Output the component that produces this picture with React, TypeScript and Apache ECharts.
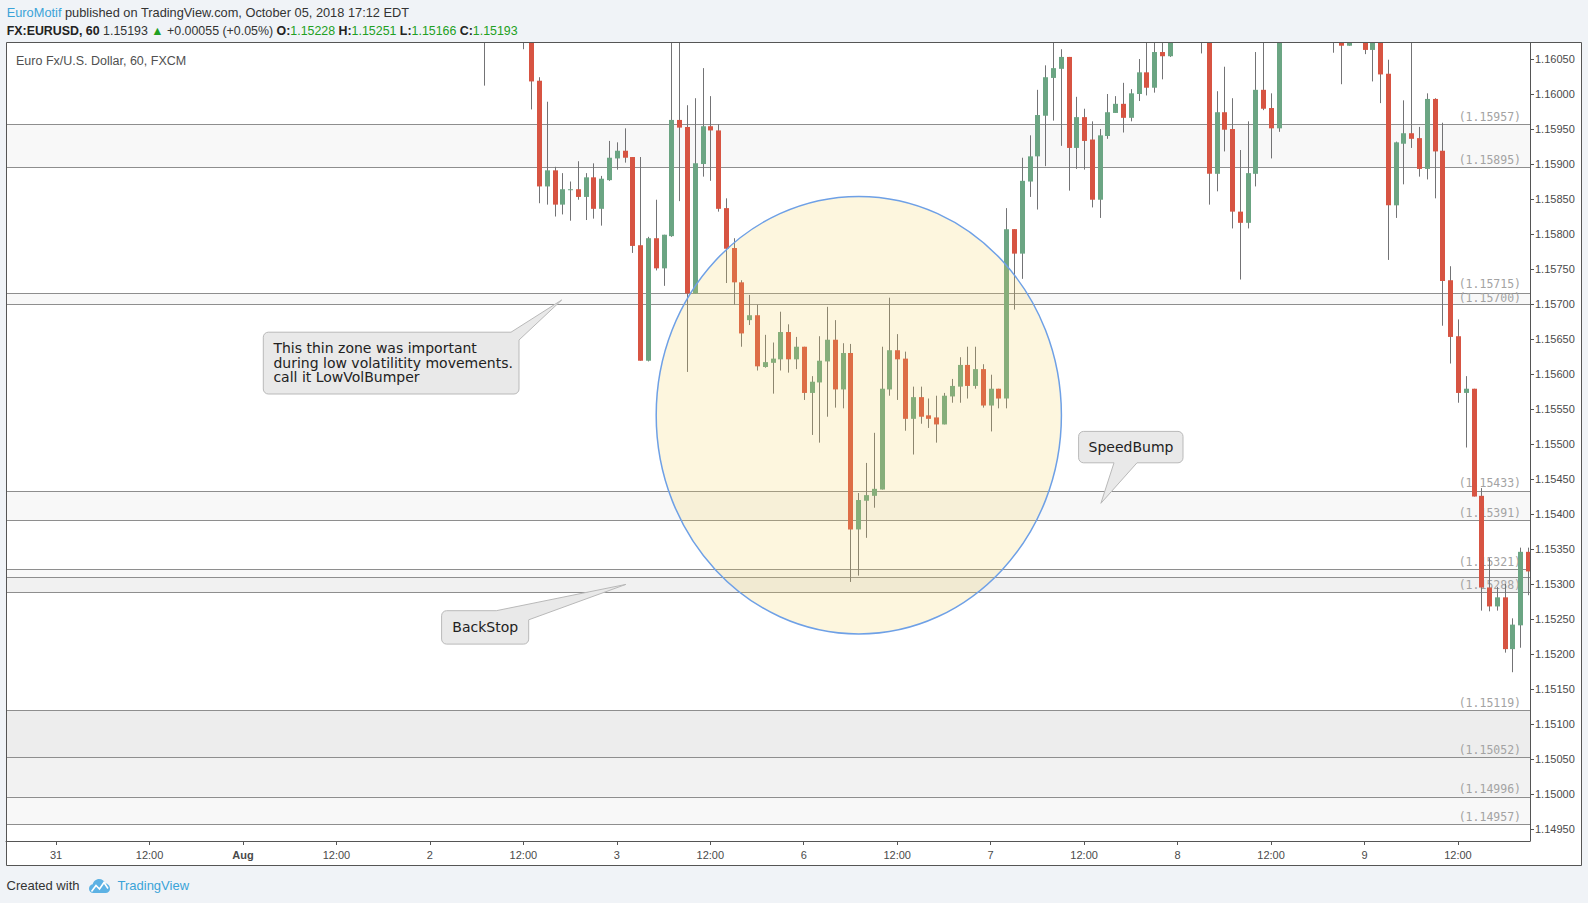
import React, { useEffect, useRef } from 'react';
import * as echarts from 'echarts';

// ---- candle data (trading hours counted from Jul 31 00:00) ----
const hours = [
  55, 60, 61, 62, 63, 64, 65, 66, 67, 68,
  69, 70, 71, 72, 73, 74, 75, 76, 77, 78,
  79, 80, 81, 82, 83, 84, 85, 86, 87, 88,
  89, 90, 91, 92, 93, 94, 95, 96, 97, 98,
  99, 100, 101, 102, 103, 104, 105, 106, 107, 108,
  109, 110, 111, 112, 113, 114, 115, 116, 117, 118,
  119, 120, 121, 122, 123, 124, 125, 126, 127, 128,
  129, 130, 131, 132, 133, 134, 135, 136, 137, 138,
  139, 140, 141, 142, 143, 147, 148, 149, 150, 151,
  152, 153, 154, 155, 156, 157, 164, 165, 166, 168,
  169, 170, 171, 172, 173, 174, 175, 176, 177, 178,
  179, 180, 181, 182, 183, 184, 185, 186, 187, 188,
  189,
];
const opens = [
  1.16130, 1.16150, 1.16120, 1.16019, 1.15868, 1.15891, 1.15842, 1.15864, 1.15864, 1.15853,
  1.15881, 1.15836, 1.15877, 1.15908, 1.15919, 1.15910, 1.15784, 1.15619, 1.15794, 1.15751,
  1.15797, 1.15963, 1.15953, 1.15715, 1.15900, 1.15954, 1.15948, 1.15837, 1.15780, 1.15731,
  1.15677, 1.15684, 1.15610, 1.15616, 1.15621, 1.15660, 1.15621, 1.15639, 1.15573, 1.15588,
  1.15618, 1.15649, 1.15578, 1.15630, 1.15378, 1.15419, 1.15426, 1.15435, 1.15578, 1.15634,
  1.15622, 1.15536, 1.15567, 1.15541, 1.15538, 1.15528, 1.15568, 1.15582, 1.15613, 1.15583,
  1.15607, 1.15555, 1.15579, 1.15565, 1.15807, 1.15772, 1.15875, 1.15911, 1.15969, 1.16023,
  1.16036, 1.16053, 1.15923, 1.15967, 1.15935, 1.15849, 1.15940, 1.15973, 1.15986, 1.15966,
  1.16000, 1.16031, 1.16009, 1.16060, 1.16054, 1.16120, 1.16095, 1.15886, 1.15974, 1.15950,
  1.15832, 1.15816, 1.15886, 1.16006, 1.15980, 1.15951, 1.16120, 1.16085, 1.16069, 1.16085,
  1.16063, 1.16085, 1.16029, 1.15841, 1.15929, 1.15944, 1.15937, 1.15893, 1.15993, 1.15919,
  1.15734, 1.15654, 1.15573, 1.15579, 1.15426, 1.15295, 1.15268, 1.15281, 1.15207, 1.15241,
  1.15346,
];
const closes = [
  1.16110, 1.16120, 1.16018, 1.15868, 1.15891, 1.15842, 1.15864, 1.15864, 1.15853, 1.15881,
  1.15836, 1.15879, 1.15909, 1.15919, 1.15909, 1.15783, 1.15619, 1.15794, 1.15751, 1.15799,
  1.15963, 1.15952, 1.15715, 1.15901, 1.15954, 1.15948, 1.15836, 1.15779, 1.15731, 1.15658,
  1.15684, 1.15611, 1.15617, 1.15622, 1.15660, 1.15621, 1.15639, 1.15573, 1.15589, 1.15619,
  1.15649, 1.15578, 1.15630, 1.15378, 1.15420, 1.15427, 1.15436, 1.15579, 1.15634, 1.15621,
  1.15536, 1.15567, 1.15539, 1.15536, 1.15528, 1.15569, 1.15583, 1.15613, 1.15583, 1.15607,
  1.15555, 1.15579, 1.15565, 1.15807, 1.15772, 1.15876, 1.15911, 1.15970, 1.16024, 1.16037,
  1.16053, 1.15923, 1.15967, 1.15933, 1.15849, 1.15941, 1.15974, 1.15986, 1.15966, 1.16001,
  1.16031, 1.16009, 1.16060, 1.16054, 1.16095, 1.16100, 1.15886, 1.15974, 1.15949, 1.15832,
  1.15816, 1.15887, 1.16006, 1.15979, 1.15951, 1.16095, 1.16100, 1.16069, 1.16085, 1.16063,
  1.16085, 1.16028, 1.15841, 1.15931, 1.15944, 1.15936, 1.15893, 1.15993, 1.15918, 1.15733,
  1.15653, 1.15573, 1.15579, 1.15425, 1.15295, 1.15268, 1.15281, 1.15207, 1.15242, 1.15346,
  1.15318,
];
const lows = [
  1.16012, 1.16064, 1.15978, 1.15844, 1.15842, 1.15825, 1.15828, 1.15819, 1.15849, 1.15820,
  1.15822, 1.15812, 1.15876, 1.15892, 1.15902, 1.15773, 1.15619, 1.15618, 1.15748, 1.15726,
  1.15796, 1.15847, 1.15603, 1.15715, 1.15882, 1.15876, 1.15832, 1.15730, 1.15699, 1.15639,
  1.15670, 1.15605, 1.15609, 1.15572, 1.15605, 1.15602, 1.15607, 1.15563, 1.15513, 1.15502,
  1.15539, 1.15552, 1.15551, 1.15303, 1.15312, 1.15366, 1.15409, 1.15435, 1.15569, 1.15563,
  1.15519, 1.15485, 1.15529, 1.15523, 1.15502, 1.15528, 1.15559, 1.15559, 1.15565, 1.15579,
  1.15552, 1.15518, 1.15551, 1.15551, 1.15692, 1.15736, 1.15853, 1.15835, 1.15897, 1.15962,
  1.15926, 1.15862, 1.15893, 1.15892, 1.15838, 1.15823, 1.15936, 1.15973, 1.15945, 1.15961,
  1.15990, 1.15998, 1.16002, 1.16021, 1.16053, 1.16058, 1.15842, 1.15861, 1.15918, 1.15808,
  1.15735, 1.15808, 1.15868, 1.15977, 1.15908, 1.15946, 1.16059, 1.16014, 1.16069, 1.16057,
  1.16018, 1.15987, 1.15763, 1.15823, 1.15871, 1.15923, 1.15882, 1.15878, 1.15851, 1.15669,
  1.15615, 1.15559, 1.15495, 1.15425, 1.15262, 1.15261, 1.15262, 1.15202, 1.15174, 1.15209,
  1.15284,
];
const highs = [
  1.16160, 1.16170, 1.16130, 1.16024, 1.15989, 1.15896, 1.15887, 1.15875, 1.15904, 1.15887,
  1.15901, 1.15883, 1.15933, 1.15931, 1.15951, 1.15910, 1.15910, 1.15796, 1.15849, 1.15799,
  1.16085, 1.16090, 1.15984, 1.15994, 1.16037, 1.15997, 1.15957, 1.15851, 1.15794, 1.15734,
  1.15713, 1.15699, 1.15656, 1.15645, 1.15689, 1.15671, 1.15653, 1.15639, 1.15597, 1.15654,
  1.15696, 1.15677, 1.15644, 1.15643, 1.15430, 1.15473, 1.15516, 1.15639, 1.15709, 1.15657,
  1.15632, 1.15582, 1.15582, 1.15565, 1.15569, 1.15573, 1.15593, 1.15624, 1.15639, 1.15639,
  1.15614, 1.15599, 1.15579, 1.15837, 1.15807, 1.15909, 1.15941, 1.16006, 1.16041, 1.16080,
  1.16064, 1.16053, 1.15996, 1.15979, 1.15961, 1.15950, 1.16000, 1.15997, 1.16016, 1.16007,
  1.16050, 1.16085, 1.16085, 1.16080, 1.16110, 1.16150, 1.16110, 1.16004, 1.16039, 1.15994,
  1.15920, 1.15961, 1.16060, 1.16085, 1.16001, 1.16110, 1.16140, 1.16090, 1.16100, 1.16100,
  1.16100, 1.16100, 1.16049, 1.15932, 1.15991, 1.16080, 1.15953, 1.16001, 1.15994, 1.15959,
  1.15754, 1.15678, 1.15597, 1.15579, 1.15437, 1.15337, 1.15296, 1.15300, 1.15251, 1.15352,
  1.15352,
];

// ---- axes ----
const xTickHours = [0, 12, 24, 36, 48, 60, 72, 84, 96, 108, 120, 132, 144, 156, 168, 180];
const xTickLabels = ['31', '12:00', 'Aug', '12:00', '2', '12:00', '3', '12:00', '6', '12:00', '7', '12:00', '8', '12:00', '9', '12:00'];
const yTicks = [
  1.1495, 1.15, 1.1505, 1.151, 1.1515, 1.152, 1.1525, 1.153, 1.1535, 1.154, 1.1545, 1.155,
  1.1555, 1.156, 1.1565, 1.157, 1.1575, 1.158, 1.1585, 1.159, 1.1595, 1.16, 1.1605,
];
const X_MIN = -6.43;
const X_MAX = 189.25;
const Y_MIN = 1.149329;
const Y_MAX = 1.160729;

// ---- horizontal levels and zones ----
const levelPrices = [1.15957, 1.15895, 1.15715, 1.157, 1.15433, 1.15391, 1.15321, 1.1531, 1.15288, 1.15119, 1.15052, 1.14996, 1.14957];
const levelLabelShown = [true, true, true, true, true, true, true, false, true, true, true, true, true];
const levelLabelLift = [2.5, 2.5, 4.5, 1, 2.5, 2.5, 2.5, 2.5, 2.5, 2.5, 2.5, 2.5, 2.5];
const zoneTops = [1.15957, 1.15715, 1.15433, 1.15321, 1.1531, 1.15119, 1.15052, 1.14996];
const zoneBottoms = [1.15895, 1.157, 1.15391, 1.1531, 1.15288, 1.15052, 1.14996, 1.14957];
const zoneColors = ['#f8f8f8', '#f8f8f8', '#f8f8f8', '#f8f8f8', '#f1f1f1', '#ededed', '#f2f2f2', '#f8f8f8'];

const UP = '#6ba583';
const DOWN = '#d75442';
const WICK = '#737375';

const LOGO_D =
  'M5 16C2.2 16 0 13.8 0 11C0 8.5 1.8 6.4 4.2 6C5 2.6 8 0 11.6 0C14.8 0 17.5 2 18.5 4.9C21.6 5.3 24 7.9 24 11C24 13.8 21.8 16 19 16Z';
echarts.graphic.registerShape('tvlogo', echarts.graphic.extendPath(LOGO_D, {}));

function arc(cx: number, cy: number, r: number, a0: number, a1: number) {
  const pts: number[][] = [];
  for (let i = 0; i <= 4; i++) {
    const a = ((a0 + ((a1 - a0) * i) / 4) * Math.PI) / 180;
    pts.push([cx + r * Math.cos(a), cy + r * Math.sin(a)]);
  }
  return pts;
}

const SANS = '"Liberation Sans", Arial, sans-serif';
const DJ = '"DejaVu Sans", Verdana, sans-serif';

export default function App() {
  const ref = useRef<HTMLDivElement>(null);
  useEffect(() => {
    if (!ref.current) return;
    const chart = echarts.init(ref.current, null, { renderer: 'svg' });
    const data = hours.map((h, i) => [h, opens[i], closes[i], lows[i], highs[i]]);
    const r = 5;

    // callout 1 (pointer from top-right corner)
    const c1 = { L: 263.3, T: 332.2, R: 519, B: 394 };
    const c1pts = [
      ...arc(c1.L + r, c1.T + r, r, 180, 270),
      [511, c1.T],
      [561.7, 300],
      [c1.R, 340],
      ...arc(c1.R - r, c1.B - r, r, 0, 90),
      ...arc(c1.L + r, c1.B - r, r, 90, 180),
    ];
    // callout 2 (pointer from bottom)
    const c2 = { L: 1078.6, T: 431.4, R: 1183, B: 462.8 };
    const c2pts = [
      ...arc(c2.L + r, c2.T + r, r, 180, 270),
      ...arc(c2.R - r, c2.T + r, r, 270, 360),
      ...arc(c2.R - r, c2.B - r, r, 0, 90),
      [1137, c2.B],
      [1100.9, 503.3],
      [1114, c2.B],
      ...arc(c2.L + r, c2.B - r, r, 90, 180),
    ];
    // callout 3
    const c3 = { L: 441.6, T: 610.7, R: 528.7, B: 644.1 };
    const c3pts = [
      ...arc(c3.L + r, c3.T + r, r, 180, 270),
      [496.3, c3.T],
      [625.9, 584.4],
      [c3.R, 619.8],
      ...arc(c3.R - r, c3.B - r, r, 0, 90),
      ...arc(c3.L + r, c3.B - r, r, 90, 180),
    ];
    const calloutStyle = { fill: '#e9e9e9', stroke: '#b9b9b9', lineWidth: 1 };

    chart.setOption({
      animation: false,
      backgroundColor: '#f0f3f7',
      grid: { left: 6, top: 43, width: 1524, height: 798, containLabel: false },
      xAxis: {
        type: 'value',
        min: X_MIN,
        max: X_MAX,
        splitLine: { show: false },
        axisLine: { show: true, onZero: false, lineStyle: { color: '#555', width: 1 } },
        axisTick: { show: true, length: 4, lineStyle: { color: '#555' }, customValues: xTickHours },
        axisLabel: {
          customValues: xTickHours,
          color: '#4a4a4a',
          fontSize: 11,
          fontFamily: SANS,
          margin: 8,
          formatter: (v: number) => {
            const i = xTickHours.indexOf(Math.round(v));
            if (i < 0) return '';
            return xTickLabels[i] === 'Aug' ? '{b|Aug}' : xTickLabels[i];
          },
          rich: { b: { fontWeight: 'bold', fontSize: 11, fontFamily: SANS, color: '#4a4a4a' } },
        },
      },
      yAxis: {
        type: 'value',
        position: 'right',
        min: Y_MIN,
        max: Y_MAX,
        splitLine: { show: false },
        axisLine: { show: true, onZero: false, lineStyle: { color: '#555', width: 1 } },
        axisTick: { show: true, length: 4, lineStyle: { color: '#555' }, customValues: yTicks },
        axisLabel: {
          customValues: yTicks,
          color: '#4a4a4a',
          fontSize: 11,
          fontFamily: SANS,
          margin: 5,
          formatter: (v: number) => v.toFixed(5),
        },
      },
      series: [
        {
          type: 'custom',
          name: 'EURUSD',
          z: 3,
          clip: true,
          silent: true,
          encode: { x: 0, y: [1, 2, 3, 4] },
          data,
          renderItem: (params: any, api: any) => {
            const h = api.value(0);
            const o = api.value(1);
            const c = api.value(2);
            const l = api.value(3);
            const hi = api.value(4);
            const pO = api.coord([h, o]);
            const pC = api.coord([h, c]);
            const pL = api.coord([h, l]);
            const pH = api.coord([h, hi]);
            const xr = Math.round(pO[0]);
            const top = Math.min(pO[1], pC[1]);
            const bot = Math.max(pO[1], pC[1]);
            return {
              type: 'group',
              children: [
                {
                  type: 'line',
                  shape: { x1: xr + 0.5, y1: pH[1], x2: xr + 0.5, y2: pL[1] },
                  style: { stroke: WICK, lineWidth: 1 },
                },
                {
                  type: 'rect',
                  shape: { x: xr - 2, y: top, width: 5, height: Math.max(bot - top, 1) },
                  style: { fill: c >= o ? UP : DOWN },
                },
              ],
            };
          },
          markArea: {
            silent: true,
            z: 1,
            itemStyle: { opacity: 1 },
            data: zoneTops.map((t, i) => [
              { yAxis: t, itemStyle: { color: zoneColors[i], opacity: 1 } },
              { yAxis: zoneBottoms[i] },
            ]),
          },
          markLine: {
            silent: true,
            z: 2,
            precision: 5,
            symbol: ['none', 'none'],
            lineStyle: { color: '#8e8e8e', width: 1, type: 'solid' },
            label: {
              position: 'insideEndTop',
              color: '#a3a3a3',
              fontFamily: '"DejaVu Sans Mono", "Liberation Mono", monospace',
              fontSize: 11.5,
              lineHeight: 10,
              distance: [9, 2.5],
            },
            emphasis: { disabled: true },
            data: levelPrices.map((p, i) => ({
              yAxis: p,
              label: {
                show: levelLabelShown[i],
                distance: [9, levelLabelLift[i]],
                formatter: () => '(' + p.toFixed(5) + ')',
              },
            })),
          },
        },
      ],
      graphic: [
        {
          type: 'rect',
          z: -10,
          silent: true,
          shape: { x: 6.5, y: 42.5, width: 1575, height: 823 },
          style: { fill: '#ffffff', stroke: null },
        },
        {
          type: 'rect',
          z: 100,
          silent: true,
          shape: { x: 6.5, y: 42.5, width: 1575, height: 823 },
          style: { fill: null, stroke: '#555555', lineWidth: 1 },
        },
        {
          type: 'text',
          z: 20,
          x: 6.7,
          y: 12.3,
          style: {
            text: '{u|EuroMotif}{n| published on TradingView.com, October 05, 2018 17:12 EDT}',
            verticalAlign: 'middle',
            fontSize: 12.8,
            fontFamily: SANS,
            rich: {
              u: { fill: '#3ba3d8', fontSize: 12.8, fontFamily: SANS },
              n: { fill: '#333333', fontSize: 12.8, fontFamily: SANS },
            },
          },
        },
        {
          type: 'text',
          z: 20,
          x: 6.7,
          y: 30.7,
          style: {
            text:
              '{b|FX:EURUSD, 60}{n| 1.15193 }{g|▲}{n| +0.00055 (+0.05%) }{b|O:}{g|1.15228}{b| H:}{g|1.15251}{b| L:}{g|1.15166}{b| C:}{g|1.15193}',
            verticalAlign: 'middle',
            fontSize: 12.4,
            fontFamily: SANS,
            rich: {
              b: { fill: '#222222', fontWeight: 'bold', fontSize: 12.4, fontFamily: SANS },
              n: { fill: '#333333', fontSize: 12.4, fontFamily: SANS },
              g: { fill: '#22a022', fontSize: 12.4, fontFamily: SANS },
            },
          },
        },
        {
          type: 'text',
          z: 20,
          x: 16,
          y: 60.5,
          style: {
            text: 'Euro Fx/U.S. Dollar, 60, FXCM',
            verticalAlign: 'middle',
            fill: '#505050',
            fontSize: 12.5,
            fontFamily: SANS,
          },
        },
        {
          type: 'ellipse',
          z: 50,
          silent: true,
          shape: { cx: 858.8, cy: 415.2, rx: 202.6, ry: 218.8 },
          style: { fill: 'rgba(245,210,90,0.2)', stroke: '#6ea0e6', lineWidth: 1.5 },
        },
        { type: 'polygon', z: 60, silent: true, shape: { points: c1pts }, style: calloutStyle },
        {
          type: 'text',
          z: 61,
          x: 273.4,
          y: 341.3,
          style: {
            text: 'This thin zone was important\nduring low volatilitity movements.\ncall it LowVolBumper',
            verticalAlign: 'top',
            lineHeight: 14.2,
            fill: '#222222',
            fontSize: 14,
            fontFamily: DJ,
          },
        },
        { type: 'polygon', z: 60, silent: true, shape: { points: c2pts }, style: calloutStyle },
        {
          type: 'text',
          z: 61,
          x: 1131,
          y: 446.8,
          style: { text: 'SpeedBump', align: 'center', verticalAlign: 'middle', fill: '#222222', fontSize: 14, fontFamily: DJ },
        },
        { type: 'polygon', z: 60, silent: true, shape: { points: c3pts }, style: calloutStyle },
        {
          type: 'text',
          z: 61,
          x: 485.2,
          y: 627.4,
          style: { text: 'BackStop', align: 'center', verticalAlign: 'middle', fill: '#222222', fontSize: 14, fontFamily: DJ },
        },
        {
          type: 'text',
          z: 20,
          x: 6.5,
          y: 885,
          style: { text: 'Created with', verticalAlign: 'middle', fill: '#333333', fontSize: 13, fontFamily: SANS },
        },
        {
          type: 'tvlogo',
          z: 20,
          x: 89,
          y: 879,
          scaleX: 0.875,
          scaleY: 0.875,
          style: { fill: '#5db2e4' },
        },
        {
          type: 'polyline',
          z: 21,
          shape: { points: [[91.5, 891.5], [96, 885.5], [99.5, 889], [104, 882.5], [108, 888.5]] },
          style: { stroke: '#ffffff', lineWidth: 1.6, fill: null },
        },
        {
          type: 'text',
          z: 20,
          x: 117.5,
          y: 885,
          style: { text: 'TradingView', verticalAlign: 'middle', fill: '#3ba3d8', fontSize: 13, fontFamily: SANS },
        },
      ],
    });
    return () => chart.dispose();
  }, []);
  return <div ref={ref} style={{ position: 'fixed', left: 0, top: 0, width: '1588px', height: '903px' }} />;
}
